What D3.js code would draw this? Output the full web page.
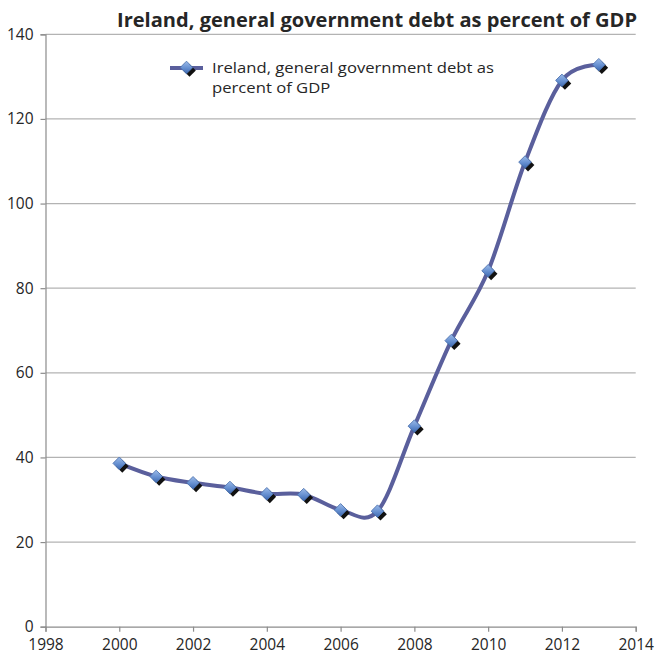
<!DOCTYPE html>
<html>
<head>
<meta charset="utf-8">
<script src="https://cdn.jsdelivr.net/npm/d3@7"></script>
<style>
  html, body { margin: 0; padding: 0; background: #fff; }
  svg { display: block; }
  text { font-family: "Open Sans", Lato, sans-serif; fill: #262626; }
</style>
</head>
<body>
<svg id="chart" width="657" height="657"></svg>
<script>
// Ireland, general government debt (% of GDP)
const years = [2000, 2001, 2002, 2003, 2004, 2005, 2006, 2007, 2008, 2009, 2010, 2011, 2012, 2013];
const debt  = [38.6, 35.5, 34.0, 32.9, 31.4, 31.2, 27.6, 27.3, 47.4, 67.6, 84.1, 109.8, 129.1, 132.8];
const xTicks = [1998, 2000, 2002, 2004, 2006, 2008, 2010, 2012, 2014];
const yTicks = [0, 20, 40, 60, 80, 100, 120, 140];
const seriesName = "Ireland, general government debt as percent of GDP";
const legendLines = ["Ireland, general government debt as", "percent of GDP"];

const svg = d3.select("#chart");
const plotLeft = 45.5, plotRight = 635.7, plotTop = 34.3, plotBottom = 626.7;

const x = d3.scaleLinear().domain([1998, 2014]).range([plotLeft, plotRight]);
const y = d3.scaleLinear().domain([0, 140]).range([plotBottom, plotTop]);

// marker gradient
const defs = svg.append("defs");
const grad = defs.append("linearGradient").attr("id", "mk")
  .attr("x1", "0").attr("y1", "0").attr("x2", "1").attr("y2", "1");
grad.append("stop").attr("offset", "0").attr("stop-color", "#9cbbe8");
grad.append("stop").attr("offset", "0.5").attr("stop-color", "#6a93d3");
grad.append("stop").attr("offset", "1").attr("stop-color", "#3c68b0");

// horizontal gridlines
svg.append("g").selectAll("line").data(yTicks.filter(d => d > 0)).join("line")
  .attr("x1", plotLeft).attr("x2", plotRight)
  .attr("y1", d => y(d)).attr("y2", d => y(d))
  .attr("stroke", "#b3b3b3").attr("stroke-width", 1.2);

// axes
const yAxis = svg.append("g").attr("transform", `translate(${plotLeft},0)`)
  .call(d3.axisLeft(y).tickValues(yTicks).tickSize(5).tickPadding(7).tickFormat(d3.format("d")));
const xAxis = svg.append("g").attr("transform", `translate(0,${plotBottom})`)
  .call(d3.axisBottom(x).tickValues(xTicks).tickSize(5).tickPadding(7).tickFormat(d3.format("d")));
[yAxis, xAxis].forEach(g => {
  g.select(".domain").attr("stroke", "#8c8c8c").attr("stroke-width", 1.2);
  g.selectAll(".tick line").attr("stroke", "#8c8c8c").attr("stroke-width", 1.2);
  g.selectAll(".tick text").style("font-size", "15.5px")
    .style("font-family", "'Open Sans', Lato, sans-serif").attr("fill", "#262626");
});

// series line (smoothed)
const line = d3.line().x((d, i) => x(years[i])).y(d => y(d)).curve(d3.curveCatmullRom.alpha(0));
svg.append("path").datum(debt).attr("d", line)
  .attr("fill", "none").attr("stroke", "#5a5f9c").attr("stroke-width", 4);

// diamond markers with drop shadow
const square = d3.symbol().type(d3.symbolSquare).size(80);
function drawMarker(g, cx, cy) {
  g.append("path").attr("d", square())
    .attr("transform", `translate(${cx + 3},${cy + 3}) rotate(45)`)
    .attr("fill", "#111");
  g.append("path").attr("d", square())
    .attr("transform", `translate(${cx},${cy}) rotate(45)`)
    .attr("fill", "url(#mk)").attr("stroke", "#4a70ad").attr("stroke-width", 0.8);
}
const markers = svg.append("g");
debt.forEach((v, i) => drawMarker(markers, x(years[i]), y(v)));

// title: condensed bold to span the plot width
svg.append("text").attr("x", 377).attr("y", 27).attr("text-anchor", "middle")
  .attr("textLength", 520).attr("lengthAdjust", "spacingAndGlyphs")
  .style("font-size", "19.5px").style("font-weight", "bold").text(seriesName);

// legend
const lg = svg.append("g");
lg.append("line").attr("x1", 170).attr("x2", 203).attr("y1", 68).attr("y2", 68)
  .attr("stroke", "#5a5f9c").attr("stroke-width", 4);
drawMarker(lg, 186.5, 67.5);
const legText = lg.selectAll("text.leg").data(legendLines).join("text").attr("class", "leg")
  .attr("x", 212).attr("y", (d, i) => 73 + i * 20)
  .style("font-size", "14.5px").text(d => d);
// widen both lines by the same factor so the first spans 282px
const natural = legText.nodes().map(n => n.getComputedTextLength());
const stretch = natural[0] > 0 ? 282 / natural[0] : 1;
legText.attr("lengthAdjust", "spacingAndGlyphs")
  .attr("textLength", (d, i) => (natural[i] * stretch).toFixed(1));
</script>
</body>
</html>
